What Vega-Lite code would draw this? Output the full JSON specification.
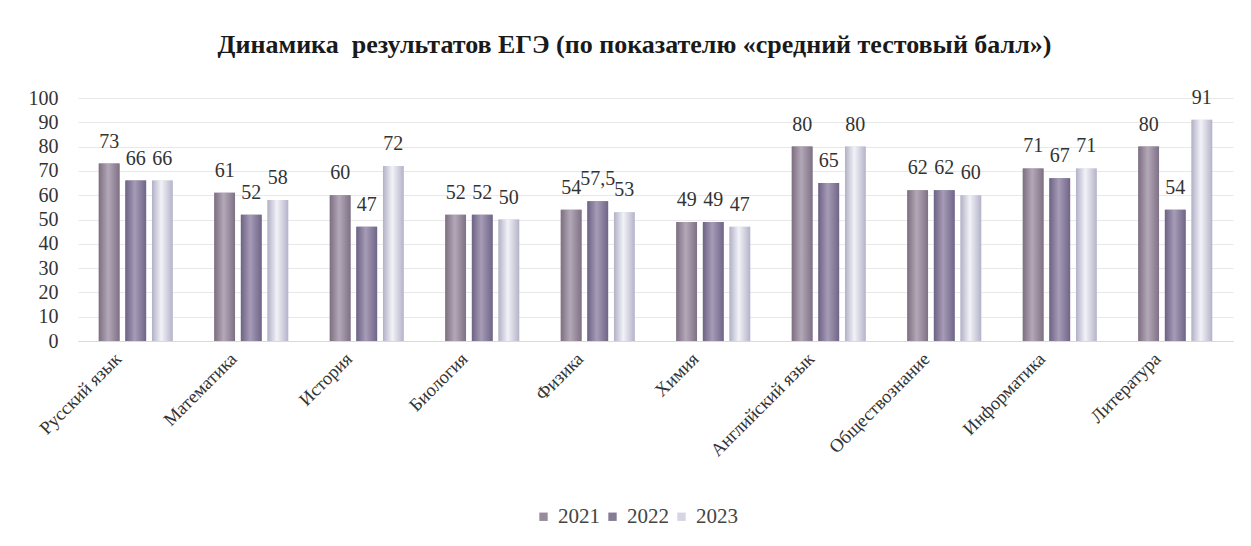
{
  "$schema": "https://vega.github.io/schema/vega-lite/v6.json",
  "width": 1155,
  "height": 243,
  "autosize": {"type": "none"},
  "padding": {"left": 78, "top": 98, "right": 18, "bottom": 205},
  "background": "#ffffff",
  "title": {
    "text": "Динамика\u00a0 результатов ЕГЭ (по показателю «средний тестовый балл»)",
    "font": "Liberation Serif",
    "fontSize": 26,
    "fontWeight": "bold",
    "color": "#1a1a1a",
    "anchor": "middle",
    "dx": -21,
    "offset": 30
  },
  "data": {
    "values": [
      {"subject": "Русский язык", "year": "2021", "score": 73},
      {"subject": "Русский язык", "year": "2022", "score": 66},
      {"subject": "Русский язык", "year": "2023", "score": 66},
      {"subject": "Математика", "year": "2021", "score": 61},
      {"subject": "Математика", "year": "2022", "score": 52},
      {"subject": "Математика", "year": "2023", "score": 58},
      {"subject": "История", "year": "2021", "score": 60},
      {"subject": "История", "year": "2022", "score": 47},
      {"subject": "История", "year": "2023", "score": 72},
      {"subject": "Биология", "year": "2021", "score": 52},
      {"subject": "Биология", "year": "2022", "score": 52},
      {"subject": "Биология", "year": "2023", "score": 50},
      {"subject": "Физика", "year": "2021", "score": 54},
      {"subject": "Физика", "year": "2022", "score": 57.5},
      {"subject": "Физика", "year": "2023", "score": 53},
      {"subject": "Химия", "year": "2021", "score": 49},
      {"subject": "Химия", "year": "2022", "score": 49},
      {"subject": "Химия", "year": "2023", "score": 47},
      {"subject": "Английский язык", "year": "2021", "score": 80},
      {"subject": "Английский язык", "year": "2022", "score": 65},
      {"subject": "Английский язык", "year": "2023", "score": 80},
      {"subject": "Обществознание", "year": "2021", "score": 62},
      {"subject": "Обществознание", "year": "2022", "score": 62},
      {"subject": "Обществознание", "year": "2023", "score": 60},
      {"subject": "Информатика", "year": "2021", "score": 71},
      {"subject": "Информатика", "year": "2022", "score": 67},
      {"subject": "Информатика", "year": "2023", "score": 71},
      {"subject": "Литература", "year": "2021", "score": 80},
      {"subject": "Литература", "year": "2022", "score": 54},
      {"subject": "Литература", "year": "2023", "score": 91}
    ]
  },
  "encoding": {
    "x": {
      "field": "subject",
      "type": "nominal",
      "sort": null,
      "title": null,
      "scale": {"paddingInner": 0.36, "paddingOuter": 0.18},
      "axis": {
        "labelAngle": -45,
        "labelFont": "Liberation Serif",
        "labelFontSize": 18.5,
        "labelColor": "#333333",
        "labelOffset": -24,
        "ticks": false,
        "domain": true,
        "domainColor": "#d9d9d9",
        "labelPadding": 8
      }
    },
    "xOffset": {"field": "year", "type": "nominal", "scale": {"paddingInner": 0.22}},
    "y": {
      "field": "score",
      "type": "quantitative",
      "title": null,
      "scale": {"domain": [0, 100]},
      "axis": {
        "values": [0, 10, 20, 30, 40, 50, 60, 70, 80, 90, 100],
        "labelOverlap": false,
        "labelFont": "serif",
        "labelFontSize": 20,
        "labelColor": "#333333",
        "ticks": false,
        "domain": false,
        "labelPadding": 20,
        "gridColor": "#e8e8e8"
      }
    }
  },
  "layer": [
    {
      "mark": {"type": "bar"},
      "encoding": {
        "color": {
          "field": "year",
          "type": "nominal",
          "title": null,
          "scale": {"domain": ["2021", "2022", "2023"], "range": ["#978b9c", "#857c95", "#d5d5e4"]},
          "legend": {
            "orient": "none",
            "legendX": 455,
            "legendY": 408,
            "direction": "horizontal",
            "symbolType": "square",
            "symbolSize": 70,
            "labelFont": "serif",
            "labelFontSize": 21,
            "labelColor": "#444444",
            "labelOffset": 4,
            "columnPadding": 2
          }
        }
      }
    },
    {
      "transform": [{"filter": "datum.year == '2021'"}],
      "mark": {
        "type": "bar",
        "color": {
          "gradient": "linear", "x1": 0, "x2": 1, "y1": 0, "y2": 0,
          "stops": [
            {"offset": 0, "color": "#7d6e80"},
            {"offset": 0.45, "color": "#b3a8b8"},
            {"offset": 1, "color": "#7f7185"}
          ]
        }
      }
    },
    {
      "transform": [{"filter": "datum.year == '2022'"}],
      "mark": {
        "type": "bar",
        "color": {
          "gradient": "linear", "x1": 0, "x2": 1, "y1": 0, "y2": 0,
          "stops": [
            {"offset": 0, "color": "#6d6284"},
            {"offset": 0.45, "color": "#a69cb6"},
            {"offset": 1, "color": "#706588"}
          ]
        }
      }
    },
    {
      "transform": [{"filter": "datum.year == '2023'"}],
      "mark": {
        "type": "bar",
        "color": {
          "gradient": "linear", "x1": 0, "x2": 1, "y1": 0, "y2": 0,
          "stops": [
            {"offset": 0, "color": "#b2b0c6"},
            {"offset": 0.45, "color": "#f2f2f8"},
            {"offset": 1, "color": "#b5b3c9"}
          ]
        }
      }
    },
    {
      "mark": {
        "type": "text",
        "baseline": "bottom",
        "dy": -12,
        "font": "serif",
        "fontSize": 20,
        "color": "#333333"
      },
      "encoding": {
        "text": {"field": "score", "type": "quantitative", "format": "~g"}
      }
    }
  ],
  "config": {
    "font": "Liberation Serif",
    "view": {"stroke": null},
    "locale": {
      "number": {"decimal": ",", "thousands": " ", "grouping": [3], "currency": ["", ""]}
    }
  }
}
